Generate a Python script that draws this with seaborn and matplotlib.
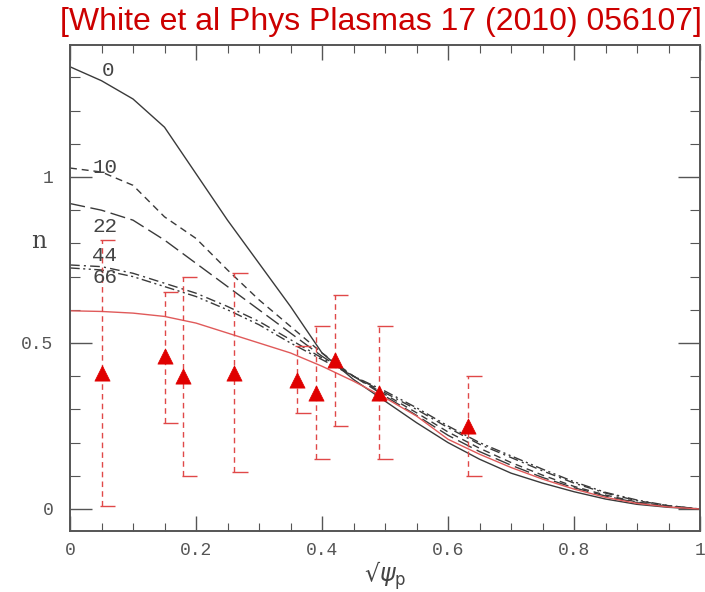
import numpy as np
import pandas as pd
import matplotlib
matplotlib.use("Agg")
import matplotlib.pyplot as plt
import seaborn as sns

# Radial grid (sqrt of normalised poloidal flux)
rho = [0.0, 0.05, 0.10, 0.15, 0.20, 0.25, 0.30, 0.35, 0.40, 0.45, 0.50,
       0.55, 0.60, 0.65, 0.70, 0.75, 0.80, 0.85, 0.90, 0.95, 1.00]

# Fast-ion density profiles at successive times (labels 0, 10, 22, 44, 66)
n_t0 = [1.332, 1.29, 1.235, 1.15, 1.01, 0.87, 0.74, 0.61, 0.47, 0.39, 0.325,
        0.26, 0.20, 0.15, 0.108, 0.078, 0.052, 0.030, 0.014, 0.005, 0.0]
n_t10 = [1.027, 1.015, 0.975, 0.88, 0.815, 0.72, 0.63, 0.55, 0.47, 0.40, 0.345,
         0.29, 0.232, 0.183, 0.14, 0.102, 0.068, 0.042, 0.021, 0.008, 0.0]
n_t22 = [0.92, 0.90, 0.87, 0.81, 0.74, 0.67, 0.60, 0.53, 0.46, 0.40, 0.34,
         0.282, 0.222, 0.173, 0.132, 0.095, 0.064, 0.039, 0.019, 0.007, 0.0]
n_t44 = [0.735, 0.73, 0.71, 0.68, 0.65, 0.61, 0.565, 0.51, 0.455, 0.40, 0.35,
         0.30, 0.245, 0.195, 0.155, 0.115, 0.078, 0.048, 0.025, 0.010, 0.0]
n_t66 = [0.726, 0.72, 0.70, 0.67, 0.64, 0.60, 0.555, 0.50, 0.45, 0.40, 0.355,
         0.305, 0.25, 0.20, 0.16, 0.12, 0.082, 0.050, 0.027, 0.010, 0.0]
# Model profile (red)
n_model = [0.597, 0.595, 0.59, 0.58, 0.56, 0.53, 0.50, 0.47, 0.43, 0.385, 0.335,
           0.28, 0.21, 0.165, 0.125, 0.09, 0.06, 0.035, 0.017, 0.006, 0.0]

curve_labels = ["0", "10", "22", "44", "66"]

# Measured points with error bars
meas_x = [0.05, 0.15, 0.18, 0.26, 0.36, 0.39, 0.42, 0.49, 0.632]
meas_y = [0.41, 0.46, 0.40, 0.41, 0.39, 0.35, 0.45, 0.35, 0.25]
meas_lo = [0.01, 0.26, 0.10, 0.11, 0.29, 0.15, 0.25, 0.15, 0.10]
meas_hi = [0.81, 0.655, 0.70, 0.71, 0.49, 0.55, 0.645, 0.55, 0.40]

title_text = "[White et al Phys Plasmas 17 (2010) 056107]"

sns.set_style("ticks")
plt.rcParams["font.family"] = ["Liberation Mono", "DejaVu Sans"]

fig = plt.figure(figsize=(7.05, 5.92), dpi=100)
ax = fig.add_axes([70 / 705, 61 / 592, 630 / 705, 486 / 592])

ink = "#3a3a3a"
profiles = [n_t0, n_t10, n_t22, n_t44, n_t66]
styles = ["-", (0, (5, 3.5)), (0, (11, 4)), (0, (7, 3, 1.5, 3)), (0, (7, 2.5, 1.5, 2.5, 1.5, 2.5))]
for prof, ls in zip(profiles, styles):
    sns.lineplot(x=rho, y=prof, ax=ax, color=ink, lw=1.0, linestyle=ls,
                 estimator=None, sort=False)
sns.lineplot(x=rho, y=n_model, ax=ax, color="#e05a5a", lw=1.0,
             estimator=None, sort=False)

# Error bars (dashed) with caps drawn mostly to the right
red = "#e04848"
for xv, lo, hi in zip(meas_x, meas_lo, meas_hi):
    ax.vlines(xv, lo, hi, colors=red, linestyles=(0, (4, 3)), lw=1.0)
    ax.hlines([lo, hi], xv - 0.003, xv + 0.022, colors=red, lw=1.0)
sns.scatterplot(x=meas_x, y=meas_y, ax=ax, marker="^", s=120, color="#e00000",
                edgecolor="#e00000", linewidth=0.5, zorder=5)

# Curve time labels
lab_pos = [(0.06, n_t0[0] - 0.01), (0.055, n_t10[0] + 0.003),
           (0.055, n_t22[0] - 0.07), (0.055, n_t44[0] + 0.03),
           (0.055, n_t66[0] - 0.03)]
for txt, (lx, ly) in zip(curve_labels, lab_pos):
    ax.text(lx, ly, txt, fontsize=15, color="#444444", ha="center", va="center")

ax.set_xlim(0, 1)
ax.set_ylim(-0.0663, 1.3976)
ax.set_xticks([0, 0.2, 0.4, 0.6, 0.8, 1.0])
ax.set_xticklabels(["0", "0.2", "0.4", "0.6", "0.8", "1"])
ax.set_xticks(np.arange(0, 1.0001, 0.05), minor=True)
ax.set_yticks([0, 0.5, 1.0])
ax.set_yticklabels(["0", "0.5", "1"])
ax.set_yticks(np.arange(0, 1.4, 0.1), minor=True)

ax.tick_params(axis="both", which="both", direction="in", top=True, right=True,
               colors="#555555", labelcolor="#555555", labelsize=13)
ax.tick_params(axis="x", which="major", length=11, width=1.0, pad=8)
ax.tick_params(axis="x", which="minor", length=6, width=0.8)
ax.tick_params(axis="y", which="major", length=16, width=1.0, pad=12)
ax.tick_params(axis="y", which="minor", length=7, width=0.8)
for sp in ax.spines.values():
    sp.set_color("#555555")
    sp.set_linewidth(1.4)
    sp.set_visible(True)

ax.set_xlabel("\u221a" + r"$\psi_{\rm p}$", fontsize=17, color="#444444", labelpad=0,
              family=["DejaVu Serif"])
ax.set_ylabel("n", fontsize=17, color="#444444", rotation=0,
              family=["DejaVu Serif"])
ax.yaxis.set_label_coords(-0.05, 0.571)

fig.text(0.995, 0.988, title_text, ha="right", va="top", color="#cc0000",
         fontsize=23, family="Liberation Sans")

fig.savefig("out.png", dpi=100)
